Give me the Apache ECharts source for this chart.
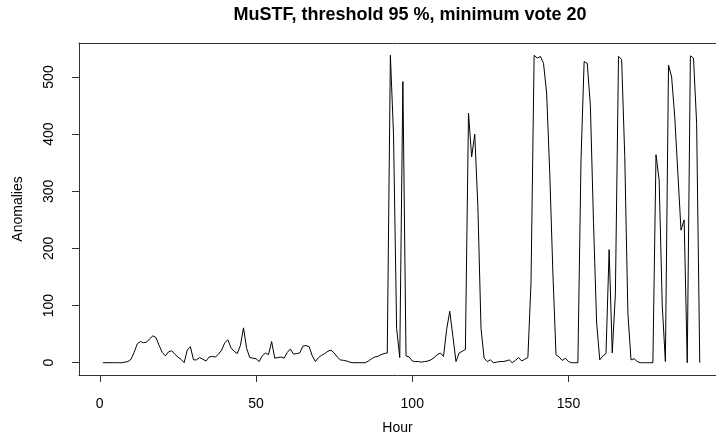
<!DOCTYPE html>
<html>
<head>
<meta charset="utf-8">
<script src="https://cdn.jsdelivr.net/npm/echarts@6/dist/echarts.min.js"></script>
<style>
  html, body { margin: 0; padding: 0; background: #fff; }
  #chart { width: 716px; height: 440px; }
</style>
</head>
<body>
<div id="chart"></div>
<script>
// anomalies per hour
var anomalies = [
    0, 0, 0, 0, 0, 0, 0, 1, 2, 6,
    18, 33, 37, 35, 36, 42, 47, 44, 30, 18,
    12, 19, 21, 15, 10, 6, 0, 22, 28, 5,
    5, 9, 6, 3, 10, 11, 10, 15, 22, 35,
    40, 26, 20, 16, 30, 61, 25, 9, 8, 7,
    2, 12, 17, 14, 37, 8, 9, 10, 8, 18,
    24, 15, 16, 17, 29, 30, 28, 12, 2, 9,
    13, 16, 20, 22, 17, 10, 5, 4, 3, 1,
    0, 0, 0, 0, 0, 3, 7, 10, 11, 14,
    16, 17, 538, 400, 60, 9, 492, 12, 10, 3,
    2, 2, 1, 2, 3, 5, 9, 14, 17, 11,
    58, 90, 46, 2, 17, 20, 23, 437, 360, 400,
    273, 60, 8, 2, 5, 0, 1, 2, 2, 3,
    5, 0, 4, 9, 3, 6, 9, 140, 538, 533,
    536, 524, 472, 332, 157, 14, 10, 4, 8, 2,
    0, 0, 0, 355, 527, 524, 450, 245, 70, 5,
    12, 16, 198, 17, 120, 536, 531, 361, 87, 5,
    7, 2, 0, 0, 0, 0, 0, 364, 320, 100,
    2, 521, 500, 430, 331, 232, 250, 0, 537, 533, 419, 0
];
var hours = anomalies.map(function(v, i){ return i + 1; });
var xTicks = [0, 50, 100, 150];
var yTicks = [0, 100, 200, 300, 400, 500];

var chart = echarts.init(document.getElementById('chart'));
var font = 'Liberation Sans, Arial, sans-serif';
var boxLine = { show: true, onZero: false, lineStyle: { color: '#333', width: 1 } };
var xMin = -6.64, xMax = 197.2;

chart.setOption({
    animation: false,
    backgroundColor: '#fff',
    title: {
        text: 'MuSTF, threshold 95 %, minimum vote 20',
        left: 405,
        top: 1,
        textAlign: 'center',
        textStyle: { fontFamily: font, fontSize: 18, fontWeight: 'bold', color: '#000' }
    },
    grid: { left: 79, top: 43, right: 0, bottom: 64 },
    xAxis: [{
        type: 'value',
        min: xMin, max: xMax,
        name: 'Hour',
        nameLocation: 'middle',
        nameGap: 46,
        nameTextStyle: { fontFamily: font, fontSize: 14, color: '#000' },
        axisLine: boxLine,
        splitLine: { show: false },
        axisTick: { show: true, length: 7, lineStyle: { color: '#333' }, customValues: xTicks },
        axisLabel: { fontFamily: font, fontSize: 14, color: '#000', margin: 22, customValues: xTicks }
    }, {
        // top edge of the box
        type: 'value',
        position: 'top',
        min: xMin, max: xMax,
        axisLine: boxLine,
        axisTick: { show: false },
        axisLabel: { show: false },
        splitLine: { show: false }
    }],
    yAxis: {
        type: 'value',
        min: -21.52, max: 559.52,
        name: 'Anomalies',
        nameLocation: 'middle',
        nameRotate: 90,
        nameGap: 54,
        nameTextStyle: { fontFamily: font, fontSize: 14, color: '#000' },
        axisLine: boxLine,
        splitLine: { show: false },
        axisTick: { show: true, length: 7, lineStyle: { color: '#333' }, customValues: yTicks },
        axisLabel: { fontFamily: font, fontSize: 14, color: '#000', margin: 23, rotate: 90, customValues: yTicks }
    },
    series: [{
        type: 'line',
        data: hours.map(function(h, i){ return [h, anomalies[i]]; }),
        showSymbol: false,
        lineStyle: { color: '#000', width: 1 },
        silent: true
    }]
});
</script>
</body>
</html>
